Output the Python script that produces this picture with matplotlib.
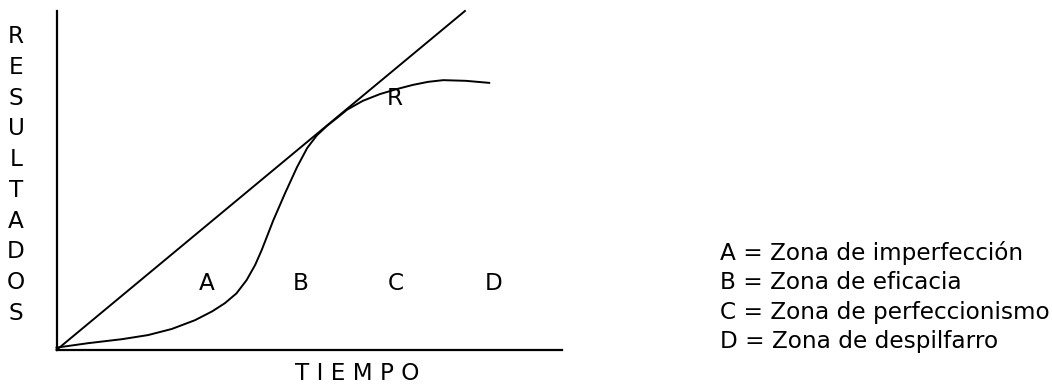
#!/usr/bin/env python3
"""
Schematic chart: results vs. time, with the ideal straight line and the
real S-shaped curve (R), zones A-D and their legend.
"""

import matplotlib
matplotlib.use("Agg")
import matplotlib.pyplot as plt

# ── Data (arbitrary units, 0-100 on both axes) ────────────────────────────────

TIME_REAL = [0, 6.2, 13.0, 18.1, 22.8, 27.4, 30.8, 33.3, 35.6, 37.6, 39.3,
             40.6, 42.9, 45.2, 47.6, 49.6, 51.5, 53.5, 55.7, 57.5, 60.6,
             64.0, 67.4, 70.5, 73.5, 76.5, 81.0, 85.6]
RESULT_REAL = [0.7, 2.0, 3.2, 4.4, 6.2, 8.8, 11.4, 13.8, 16.7, 20.6, 25.1,
               29.5, 38.3, 46.2, 54.0, 59.6, 63.3, 66.1, 68.7, 70.9, 73.5,
               75.5, 77.0, 78.2, 79.1, 79.6, 79.4, 78.8]

TIME_IDEAL = [0, 80.8]
RESULT_IDEAL = [0, 100]

ZONES = ["A", "B", "C", "D"]
ZONE_X = [29.8, 48.4, 67.2, 86.4]
ZONE_Y = 17.7

ZONE_NAMES = ["Zona de imperfección", "Zona de eficacia",
              "Zona de perfeccionismo", "Zona de despilfarro"]

Y_LABEL = "RESULTADOS"
X_LABEL = "T I E M P O"

OUTPUT_PATH = "out.png"

W, H = 1052, 385
FONT = "DejaVu Sans"
FS = 16.7


def px(x, y):
    # pixel position -> figure fraction
    return x / W, 1 - y / H


def main():
    fig = plt.figure(figsize=(W / 100, H / 100), dpi=100)
    ax = fig.add_axes([56.5 / W, 1 - 350 / H, 505.5 / W, 339 / H])

    ax.plot(TIME_IDEAL, RESULT_IDEAL, color="black", lw=1.4, clip_on=False)
    ax.plot(TIME_REAL, RESULT_REAL, color="black", lw=1.4, clip_on=False,
            solid_joinstyle="round")

    ax.set_xlim(0, 100)
    ax.set_ylim(0, 100)
    ax.set_xticks([])
    ax.set_yticks([])
    ax.spines["top"].set_visible(False)
    ax.spines["right"].set_visible(False)
    ax.spines["left"].set_linewidth(1.6)
    ax.spines["bottom"].set_linewidth(1.6)

    for z, x in zip(ZONES, ZONE_X):
        ax.text(x, ZONE_Y, z, ha="center", va="baseline",
                fontsize=FS, family=FONT)
    ax.text(67.0, 72.3, "R", ha="center", va="baseline",
            fontsize=FS, family=FONT)

    # vertical stacked axis label
    for i, ch in enumerate(Y_LABEL):
        fig.text(*px(16, 43.3 + i * 30.7), ch, ha="center", va="baseline",
                 fontsize=FS, family=FONT)

    fig.text(*px(357, 380), X_LABEL, ha="center", va="baseline",
             fontsize=FS, family=FONT)

    for i, (z, name) in enumerate(zip(ZONES, ZONE_NAMES)):
        fig.text(*px(720, 260 + i * 29.4), f"{z} = {name}", ha="left",
                 va="baseline", fontsize=FS, family=FONT)

    fig.savefig(OUTPUT_PATH, dpi=100)


if __name__ == "__main__":
    main()
